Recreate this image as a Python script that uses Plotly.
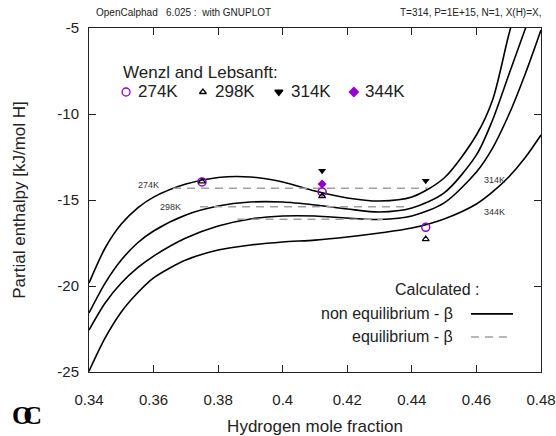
import plotly.graph_objects as go

# ---------------- data ----------------
x_grid = [0.34, 0.345, 0.35, 0.355, 0.36, 0.37, 0.38, 0.39, 0.40, 0.41,
          0.42, 0.43, 0.44, 0.45, 0.46, 0.465, 0.47, 0.475, 0.48]

h_274 = [-19.83, -17.79, -16.40, -15.47, -14.83, -14.07, -13.69, -13.66, -13.95, -14.48,
         -14.88, -15.06, -14.83, -13.72, -11.22, -9.19, -5.41, -2.0, None]
h_298 = [-21.57, -19.83, -18.49, -17.50, -16.80, -15.87, -15.35, -15.12, -15.12, -15.29,
         -15.52, -15.70, -15.47, -14.59, -12.38, -10.35, -7.73, -5.12, -2.5]
h_314 = [-22.56, -20.99, -19.83, -18.95, -18.26, -17.21, -16.51, -16.10, -15.93, -15.93,
         -16.05, -16.13, -15.93, -15.17, -13.37, -11.98, -10.06, -7.73, -5.12]
h_344 = [-24.95, -23.02, -21.51, -20.41, -19.53, -18.49, -17.91, -17.62, -17.44, -17.33,
         -17.15, -16.92, -16.63, -16.10, -15.23, -14.53, -13.66, -12.56, -11.22]

# equilibrium (common tangent) lines: [x_start, x_end], level
eq_274_x = [0.366, 0.445]; eq_274_y = -14.32
eq_298_x = [0.3744, 0.4395]; eq_298_y = -15.39
eq_314_x = [0.386, 0.431]; eq_314_y = -16.12

# experimental data (Wenzl and Lebsanft)
exp_274_x = [0.375, 0.4122, 0.4443]; exp_274_y = [-13.95, -14.53, -16.59]
exp_298_x = [0.375, 0.4122, 0.4443]; exp_298_y = [-13.92, -14.77, -17.27]
exp_314_x = [0.4122, 0.4443]; exp_314_y = [-13.30, -13.88]
exp_344_x = [0.4122]; exp_344_y = [-14.07]

x_ticks = [0.34, 0.36, 0.38, 0.40, 0.42, 0.44, 0.46, 0.48]
x_tick_text = ["0.34", "0.36", "0.38", "0.4", "0.42", "0.44", "0.46", "0.48"]
y_ticks = [-25, -20, -15, -10, -5]
y_tick_text = ["-25", "-20", "-15", "-10", "-5"]

PURPLE = "#9400d3"
GREY = "#a0a0a0"
FONT = "Liberation Sans, Arial, sans-serif"

fig = go.Figure()

for ys in [h_274, h_298, h_314, h_344]:
    fig.add_trace(go.Scatter(x=x_grid, y=ys, mode="lines", line=dict(color="black", width=1.6, shape="spline", smoothing=0.8),
                             showlegend=False, hoverinfo="skip", cliponaxis=True))

for xs, yv in [(eq_274_x, eq_274_y), (eq_298_x, eq_298_y), (eq_314_x, eq_314_y)]:
    fig.add_trace(go.Scatter(x=xs, y=[yv, yv], mode="lines", line=dict(color=GREY, width=1.5, dash="8px,6px"),
                             showlegend=False, hoverinfo="skip"))

fig.add_trace(go.Scatter(x=exp_314_x, y=exp_314_y, mode="markers",
                         marker=dict(symbol="triangle-down", size=7, color="black"), showlegend=False))
fig.add_trace(go.Scatter(x=exp_344_x, y=exp_344_y, mode="markers",
                         marker=dict(symbol="diamond", size=7, color=PURPLE), showlegend=False))
fig.add_trace(go.Scatter(x=exp_274_x, y=exp_274_y, mode="markers",
                         marker=dict(symbol="circle-open", size=8, color=PURPLE, line=dict(width=1.5)), showlegend=False))
fig.add_trace(go.Scatter(x=exp_298_x, y=exp_298_y, mode="markers",
                         marker=dict(symbol="triangle-up-open", size=6, color="black", line=dict(width=1.2)), showlegend=False))

# ---- legend glyphs on an overlay 0..1 axis ----
leg_x = [0.082, 0.252, 0.420, 0.586]
leg_sym = ["circle-open", "triangle-up-open", "triangle-down", "diamond"]
leg_col = [PURPLE, "black", "black", PURPLE]
leg_size = [8, 6, 7, 7]
for lx, s, c, sz in zip(leg_x, leg_sym, leg_col, leg_size):
    fig.add_trace(go.Scatter(x=[lx], y=[0.814], xaxis="x2", yaxis="y2", mode="markers",
                             marker=dict(symbol=s, size=sz, color=c, line=dict(width=1.3, color=c)),
                             showlegend=False, hoverinfo="skip"))
fig.add_trace(go.Scatter(x=[0.845, 0.938], y=[0.169, 0.169], xaxis="x2", yaxis="y2", mode="lines",
                         line=dict(color="black", width=1.6), showlegend=False, hoverinfo="skip"))
fig.add_trace(go.Scatter(x=[0.845, 0.938], y=[0.102, 0.102], xaxis="x2", yaxis="y2", mode="lines",
                         line=dict(color=GREY, width=1.5, dash="8px,6px"), showlegend=False, hoverinfo="skip"))

ann = []
def txt(x, y, s, size, anchor="left", color="#222222", family=FONT, xref="paper", yref="paper"):
    ann.append(dict(x=x, y=y, xref=xref, yref=yref, text=s, showarrow=False, xanchor=anchor,
                    yanchor="middle", font=dict(size=size, color=color, family=family)))

txt(0.071, 0.872, "Wenzl and Lebsanft:", 17)
for lx, lab in zip([0.104, 0.274, 0.442, 0.606], ["274K", "298K", "314K", "344K"]):
    txt(lx, 0.814, lab, 17)
txt(0.770, 0.241, "Calculated :", 16, anchor="center")
txt(0.810, 0.169, "non equilibrium - β", 16, anchor="right")
txt(0.810, 0.102, "equilibrium - β", 16, anchor="right")

# curve labels
txt(0.160, 0.544, "274K", 9, anchor="right", color="#333333")
txt(0.208, 0.481, "298K", 9, anchor="right", color="#333333")
txt(0.870, 0.558, "314K", 9, anchor="left", color="#333333")
txt(0.870, 0.465, "344K", 9, anchor="left", color="#333333")

# header
txt(0.012, 1.044, "OpenCalphad   6.025 :  with GNUPLOT", 10)
txt(1.005, 1.044, "T=314, P=1E+15, N=1, X(H)=X,", 10, anchor="right")

# OC logo (single text, letters pulled together)
txt(-0.139, -0.125, '<span style="letter-spacing:-9px"><b>OC</b></span>', 26, anchor="center",
    color="black", family="Liberation Serif, serif")

axis_common = dict(showgrid=False, zeroline=False, showline=True, linecolor="#222222", linewidth=1,
                   mirror="allticks", ticks="inside", ticklen=7, tickcolor="#222222", tickwidth=1,
                   automargin=False,
                   tickfont=dict(size=15, family=FONT, color="#222222"))

fig.update_layout(
    width=556, height=436,
    margin=dict(l=89, r=15, t=28, b=64),
    plot_bgcolor="white", paper_bgcolor="white",
    showlegend=False,
    font=dict(family=FONT, color="#222222"),
    xaxis=dict(range=[0.34, 0.48], tickvals=x_ticks, ticktext=x_tick_text, ticklabelstandoff=14,
               title=dict(text="Hydrogen mole fraction", font=dict(size=17, family=FONT), standoff=13),
               **axis_common),
    yaxis=dict(range=[-25, -5], tickvals=y_ticks, ticktext=y_tick_text, ticklabelstandoff=6,
               title=dict(text="Partial enthalpy [kJ/mol H]", font=dict(size=17, family=FONT), standoff=27),
               **axis_common),
    xaxis2=dict(range=[0, 1], overlaying="x", visible=False, fixedrange=True),
    yaxis2=dict(range=[0, 1], overlaying="y", visible=False, fixedrange=True),
    annotations=ann,
)

fig.write_html("out.html")
